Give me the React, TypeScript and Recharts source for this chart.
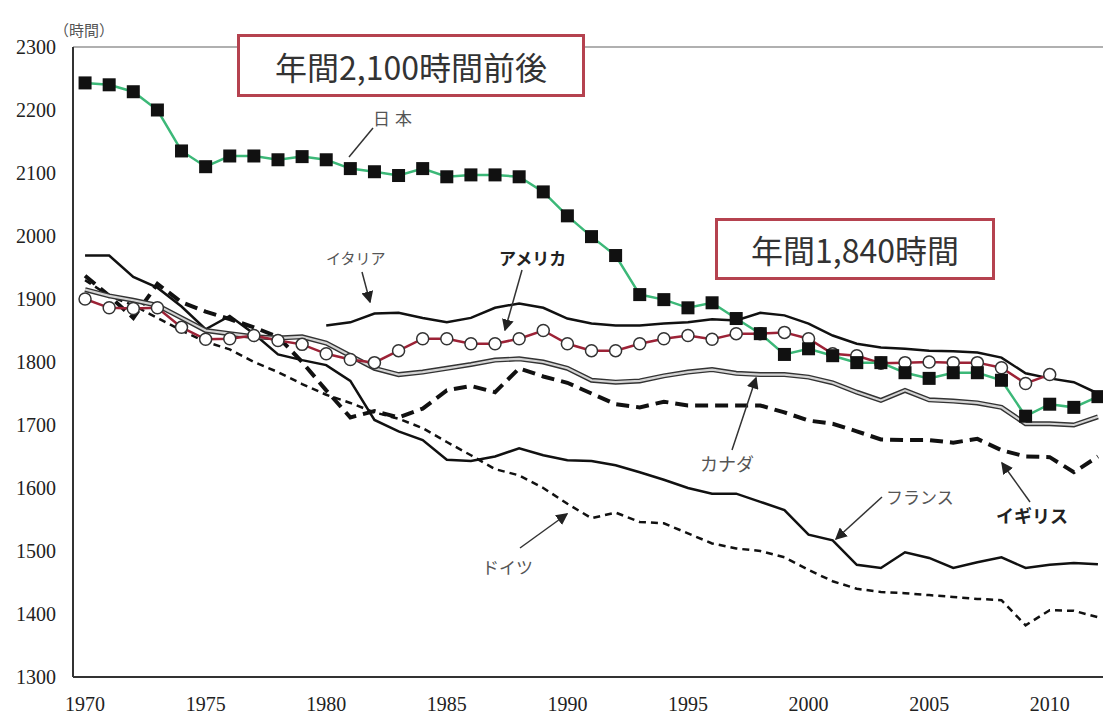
import { Line, LineChart, ReferenceLine, XAxis, YAxis } from "recharts";

// 年 (1970–2012)
const years = [
  1970, 1971, 1972, 1973, 1974, 1975, 1976, 1977, 1978, 1979,
  1980, 1981, 1982, 1983, 1984, 1985, 1986, 1987, 1988, 1989,
  1990, 1991, 1992, 1993, 1994, 1995, 1996, 1997, 1998, 1999,
  2000, 2001, 2002, 2003, 2004, 2005, 2006, 2007, 2008, 2009,
  2010, 2011, 2012,
];

const japan = [
  2243, 2240, 2229, 2200, 2135, 2110, 2127, 2127, 2121, 2126,
  2121, 2107, 2102, 2096, 2107, 2094, 2097, 2097, 2094, 2070,
  2032, 1999, 1969, 1907, 1899, 1886, 1894, 1869, 1845, 1812,
  1821, 1810, 1799, 1799, 1783, 1774, 1783, 1783, 1771, 1714,
  1733, 1728, 1745,
];

const usa = [
  1900, 1886, 1885, 1886, 1855, 1836, 1837, 1842, 1834, 1828,
  1813, 1804, 1799, 1818, 1837, 1837, 1829, 1829, 1837, 1850,
  1829, 1818, 1818, 1829, 1837, 1842, 1836, 1845, 1845, 1847,
  1837, 1813, 1810, 1798, 1799, 1800, 1799, 1799, 1791, 1766,
  1780, null, null,
];

const italy = [
  null, null, null, null, null, null, null, null, null, null,
  1858, 1863, 1877, 1878, 1870, 1863, 1870, 1886, 1893, 1886,
  1869, 1861, 1858, 1858, 1861, 1863, 1868, 1866, 1878, 1874,
  1861, 1842, 1829, 1823, 1821, 1818, 1817, 1815, 1807, 1782,
  1774, 1768, 1750,
];

const canada = [
  1915, 1905, 1898, 1890, 1870, 1850, 1845, 1840, 1838, 1840,
  1830, 1810, 1790, 1780, 1784, 1790, 1796, 1803, 1805, 1800,
  1790, 1771, 1768, 1770, 1778, 1784, 1788, 1782, 1780, 1780,
  1776, 1767, 1752, 1739, 1755, 1740, 1738, 1735, 1728, 1702,
  1702, 1700, 1713,
];

const uk = [
  1937, 1905, 1870, 1924, 1895, 1880, 1868, 1855, 1840, 1800,
  1755, 1712, 1722, 1712, 1726, 1755, 1762, 1752, 1790, 1777,
  1767, 1750, 1733, 1728, 1737, 1731, 1731, 1731, 1731, 1720,
  1707, 1702, 1690, 1677, 1676, 1676, 1672, 1678, 1660, 1650,
  1649, 1625, 1650,
];

const france = [
  1969, 1969, 1935, 1918, 1888, 1852, 1873, 1845, 1812, 1803,
  1795, 1770, 1708, 1690, 1676, 1645, 1643, 1650, 1663, 1652,
  1644, 1643, 1636, 1625, 1613, 1600, 1591, 1591, 1578, 1565,
  1526, 1517, 1478, 1473, 1498, 1489, 1473, 1482, 1490, 1473,
  1478, 1481, 1479,
];

const germany = [
  1930, 1905, 1890, 1870, 1850, 1832, 1820, 1800, 1784, 1765,
  1748, 1735, 1720, 1710, 1695, 1673, 1652, 1630, 1620, 1600,
  1575, 1552, 1561, 1546, 1544, 1528, 1512, 1504, 1500, 1490,
  1470, 1452, 1440, 1435, 1433, 1430, 1427, 1424, 1422, 1382,
  1406, 1405, 1395,
];

const xLabelYears = [1970, 1975, 1980, 1985, 1990, 1995, 2000, 2005, 2010];
const yTicks = [1300, 1400, 1500, 1600, 1700, 1800, 1900, 2000, 2100, 2200, 2300];

const data = years.map((year, i) => ({
  year,
  japan: japan[i],
  usa: usa[i],
  italy: italy[i],
  canada: canada[i],
  uk: uk[i],
  france: france[i],
  germany: germany[i],
}));

const serif = "'Liberation Serif', 'DejaVu Serif', serif";
const jp = "'Noto Sans CJK JP', 'Noto Sans', sans-serif";

function SquareDot(props: any) {
  const { cx, cy } = props;
  if (cx == null || cy == null) return null;
  return <rect x={cx - 6.5} y={cy - 6.5} width={13} height={13} fill="#111" />;
}

const labelStyle = (
  left: number,
  top: number,
  size: number,
  bold = false,
): React.CSSProperties => ({
  position: "absolute",
  left,
  top,
  fontFamily: jp,
  fontSize: size,
  fontWeight: bold ? 700 : 400,
  color: bold ? "#222" : "#555",
  lineHeight: 1,
  whiteSpace: "nowrap",
});

const boxStyle = (left: number, top: number, width: number, height: number): React.CSSProperties => ({
  position: "absolute",
  left,
  top,
  width,
  height,
  boxSizing: "border-box",
  border: "3px solid #b5424f",
  background: "#fff",
  display: "flex",
  alignItems: "center",
  justifyContent: "center",
  fontFamily: jp,
  fontSize: 32,
  color: "#333",
});

export default function App() {
  return (
    <div style={{ position: "relative", width: 1103, height: 716, overflow: "hidden", background: "#fff" }}>
      <style>{"html,body{margin:0;overflow:hidden;background:#fff}"}</style>
      <LineChart
        width={1115}
        height={716}
        data={data}
        margin={{ top: 47, right: 5, bottom: 9, left: 0 }}
      >
        <XAxis
          type="number"
          dataKey="year"
          domain={[1969.5, 2012.5]}
          ticks={xLabelYears}
          interval={0}
          allowDataOverflow
          height={30}
          tickLine={false}
          tickSize={0}
          tickMargin={20}
          axisLine={{ stroke: "#333", strokeWidth: 2 }}
          tick={{ fill: "#222", fontSize: 20, fontFamily: serif }}
        />
        <YAxis
          type="number"
          domain={[1300, 2300]}
          ticks={yTicks}
          interval={0}
          width={73}
          tickLine={false}
          tickSize={0}
          tickMargin={17}
          axisLine={{ stroke: "#333", strokeWidth: 2 }}
          tick={{ fill: "#222", fontSize: 20, fontFamily: serif }}
        />
        <ReferenceLine y={2300} stroke="#b0b0b0" strokeWidth={2} />

        <Line
          dataKey="germany"
          stroke="#111"
          strokeWidth={2.5}
          strokeDasharray="7 5"
          dot={false}
          isAnimationActive={false}
        />
        <Line dataKey="france" stroke="#111" strokeWidth={2.5} dot={false} isAnimationActive={false} />
        <Line
          dataKey="uk"
          stroke="#111"
          strokeWidth={4}
          strokeDasharray="13 7"
          dot={false}
          isAnimationActive={false}
        />
        <Line key="canada-outer" dataKey="canada" stroke="#333" strokeWidth={5} dot={false} isAnimationActive={false} />
        <Line key="canada-inner" dataKey="canada" stroke="#d4d4d4" strokeWidth={2.2} dot={false} isAnimationActive={false} />
        <Line dataKey="italy" stroke="#111" strokeWidth={2.5} dot={false} isAnimationActive={false} />
        <Line
          dataKey="usa"
          stroke="#9c2236"
          strokeWidth={2.5}
          dot={{ r: 6, fill: "#fff", stroke: "#333", strokeWidth: 1.5 }}
          isAnimationActive={false}
        />
        <Line
          dataKey="japan"
          stroke="#3cb878"
          strokeWidth={2.5}
          dot={<SquareDot />}
          isAnimationActive={false}
        />
      </LineChart>

      <div style={labelStyle(54, 22, 15)}>（時間）</div>

      <div style={boxStyle(237, 34, 348, 63)}>年間2,100時間前後</div>
      <div style={boxStyle(715, 218, 280, 62)}>年間1,840時間</div>

      <div style={{ ...labelStyle(373, 109, 17), letterSpacing: 5 }}>日本</div>
      <div style={labelStyle(326, 250, 15)}>イタリア</div>
      <div style={labelStyle(499, 249, 17, true)}>アメリカ</div>
      <div style={labelStyle(700, 454, 18)}>カナダ</div>
      <div style={labelStyle(886, 488, 17)}>フランス</div>
      <div style={labelStyle(996, 506, 18, true)}>イギリス</div>
      <div style={labelStyle(482, 558, 17)}>ドイツ</div>

      <svg
        width={1103}
        height={716}
        style={{ position: "absolute", left: 0, top: 0, pointerEvents: "none" }}
      >
        <defs>
          <marker id="arr" markerWidth={8} markerHeight={8} refX={7} refY={4} orient="auto">
            <path d="M0,0 L8,4 L0,8 z" fill="#222" />
          </marker>
        </defs>
        <g stroke="#333" strokeWidth={1.5}>
          <line x1={373} y1={128} x2={349} y2={157} />
          <line x1={362} y1={272} x2={370} y2={302} markerEnd="url(#arr)" />
          <line x1={522} y1={270} x2={505} y2={330} markerEnd="url(#arr)" />
          <line x1={732} y1={450} x2={756} y2={378} markerEnd="url(#arr)" />
          <line x1={882} y1={497} x2={836} y2={539} markerEnd="url(#arr)" />
          <line x1={1030} y1={502} x2={1002} y2={463} markerEnd="url(#arr)" />
          <line x1={520} y1={548} x2={567} y2={514} markerEnd="url(#arr)" />
        </g>
      </svg>
    </div>
  );
}
